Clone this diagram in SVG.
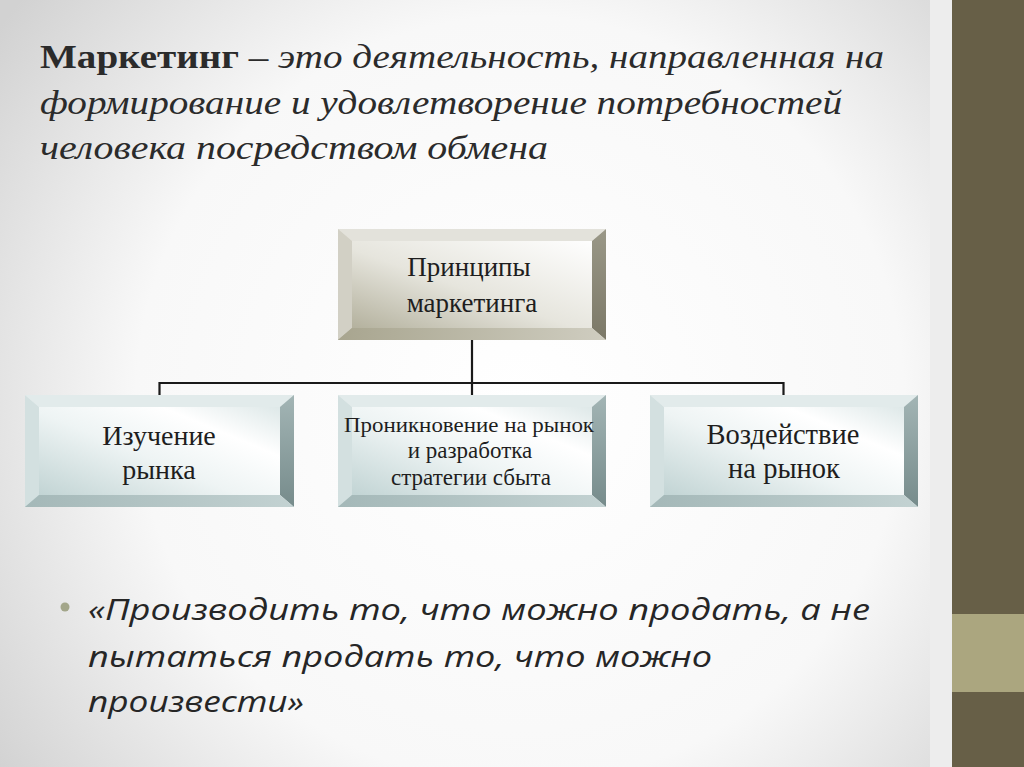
<svg xmlns="http://www.w3.org/2000/svg" width="1024" height="767" viewBox="0 0 1024 767">
<defs>
<radialGradient id="bg" cx="520" cy="400" r="640" gradientUnits="userSpaceOnUse">
<stop offset="0" stop-color="#ffffff"/>
<stop offset="0.6" stop-color="#f8f8f8"/>
<stop offset="1" stop-color="#d2d2d2"/>
</radialGradient>
<linearGradient id="faceTop" x1="0" y1="1" x2="0.85" y2="0">
<stop offset="0" stop-color="#a9a690"/>
<stop offset="0.5" stop-color="#e6e5dd"/>
<stop offset="1" stop-color="#ffffff"/>
</linearGradient>
<linearGradient id="rightTop" x1="0" y1="0" x2="0" y2="1">
<stop offset="0" stop-color="#9a9888"/>
<stop offset="1" stop-color="#7b7867"/>
</linearGradient>
<linearGradient id="bottomTop" x1="0" y1="0" x2="1" y2="0">
<stop offset="0" stop-color="#a8a58f"/>
<stop offset="1" stop-color="#cfcdc0"/>
</linearGradient>
<linearGradient id="faceChild" x1="0" y1="1" x2="1" y2="0">
<stop offset="0" stop-color="#b8cdcd"/>
<stop offset="0.45" stop-color="#eef4f4"/>
<stop offset="0.7" stop-color="#ffffff"/>
<stop offset="1" stop-color="#d2e0e0"/>
</linearGradient>
<linearGradient id="rightChild" x1="0" y1="0" x2="0" y2="1">
<stop offset="0" stop-color="#a3b5b5"/>
<stop offset="1" stop-color="#768b8b"/>
</linearGradient>
<linearGradient id="bottomChild" x1="0" y1="0" x2="1" y2="0">
<stop offset="0" stop-color="#a4b8b8"/>
<stop offset="1" stop-color="#c3d2d2"/>
</linearGradient>
</defs>
<style>
.title{font-family:"Liberation Serif","DejaVu Serif",serif;font-size:34px;fill:#2b2b2b}
.b{font-weight:bold}
.i{font-style:italic}
.node{font-family:"Liberation Serif","Times New Roman",serif;fill:#1e1e1e;text-anchor:middle}
.quote{font-family:"Open Sans","Liberation Sans",sans-serif;font-style:italic;font-size:30px;fill:#262626}
.conn{stroke:#1a1a1a;stroke-width:2.2;fill:none}
.tbevT{fill:#e3e2db}
.tbevL{fill:#d2d0c5}
.cbevT{fill:#e2ebeb}
.cbevL{fill:#d3e0e0}
</style>
<rect x="0" y="0" width="1024" height="767" fill="url(#bg)"/>
<rect x="930" y="0" width="22" height="767" fill="#ededed"/>
<rect x="952" y="0" width="72" height="767" fill="#675f47"/>
<rect x="952" y="614" width="72" height="78" fill="#aba67f"/>

<g id="title">
<text class="title" x="40" y="68" textLength="844" lengthAdjust="spacingAndGlyphs"><tspan class="b">Маркетинг</tspan><tspan class="i"> – это деятельность, направленная на</tspan></text>
<text class="title i" x="40" y="114" textLength="802" lengthAdjust="spacingAndGlyphs">формирование и удовлетворение потребностей</text>
<text class="title i" x="40" y="159" textLength="508" lengthAdjust="spacingAndGlyphs">человека посредством обмена</text>
</g>

<g id="connectors">
<line class="conn" x1="472" y1="340" x2="472" y2="396"/>
<polyline class="conn" points="159.5,396 159.5,383 783.5,383 783.5,396"/>
</g>

<g id="principles">
<rect x="338" y="229" width="268" height="111" fill="url(#faceTop)"/>
<polygon class="tbevT" points="338,229 606,229 592,241 352,241"/>
<polygon class="tbevL" points="338,229 352,241 352,328 338,340"/>
<polygon fill="url(#rightTop)" points="606,229 606,340 592,328 592,241"/>
<polygon fill="url(#bottomTop)" points="338,340 352,328 592,328 606,340"/>
<text class="node" x="469" y="276" font-size="27">Принципы</text>
<text class="node" x="472" y="312" font-size="27">маркетинга</text>
</g>

<g id="research">
<rect x="25" y="395" width="269" height="112" fill="url(#faceChild)"/>
<polygon class="cbevT" points="25,395 294,395 280,407 39,407"/>
<polygon class="cbevL" points="25,395 39,407 39,495 25,507"/>
<polygon fill="url(#rightChild)" points="294,395 294,507 280,495 280,407"/>
<polygon fill="url(#bottomChild)" points="25,507 39,495 280,495 294,507"/>
<text class="node" x="159" y="445" font-size="28">Изучение</text>
<text class="node" x="159" y="479" font-size="28">рынка</text>
</g>

<g id="penetration">
<rect x="338" y="395" width="268" height="112" fill="url(#faceChild)"/>
<polygon class="cbevT" points="338,395 606,395 592,407 352,407"/>
<polygon class="cbevL" points="338,395 352,407 352,495 338,507"/>
<polygon fill="url(#rightChild)" points="606,395 606,507 592,495 592,407"/>
<polygon fill="url(#bottomChild)" points="338,507 352,495 592,495 606,507"/>
<text class="node" x="469" y="432" font-size="22" textLength="250" lengthAdjust="spacingAndGlyphs">Проникновение на рынок</text>
<text class="node" x="470" y="458" font-size="23">и разработка</text>
<text class="node" x="471" y="485" font-size="23">стратегии сбыта</text>
</g>

<g id="impact">
<rect x="650" y="395" width="268" height="112" fill="url(#faceChild)"/>
<polygon class="cbevT" points="650,395 918,395 904,407 664,407"/>
<polygon class="cbevL" points="650,395 664,407 664,495 650,507"/>
<polygon fill="url(#rightChild)" points="918,395 918,507 904,495 904,407"/>
<polygon fill="url(#bottomChild)" points="650,507 664,495 904,495 918,507"/>
<text class="node" x="783" y="444" font-size="28.5">Воздействие</text>
<text class="node" x="784" y="478" font-size="28.5">на рынок</text>
</g>

<g id="quote">
<circle cx="65" cy="607" r="4.5" fill="#a3a68a"/>
<text class="quote" x="88" y="620" textLength="782" lengthAdjust="spacingAndGlyphs">«Производить то, что можно продать, а не</text>
<text class="quote" x="88" y="667" textLength="624" lengthAdjust="spacingAndGlyphs">пытаться продать то, что можно</text>
<text class="quote" x="88" y="712" textLength="216" lengthAdjust="spacingAndGlyphs">произвести»</text>
</g>
</svg>
